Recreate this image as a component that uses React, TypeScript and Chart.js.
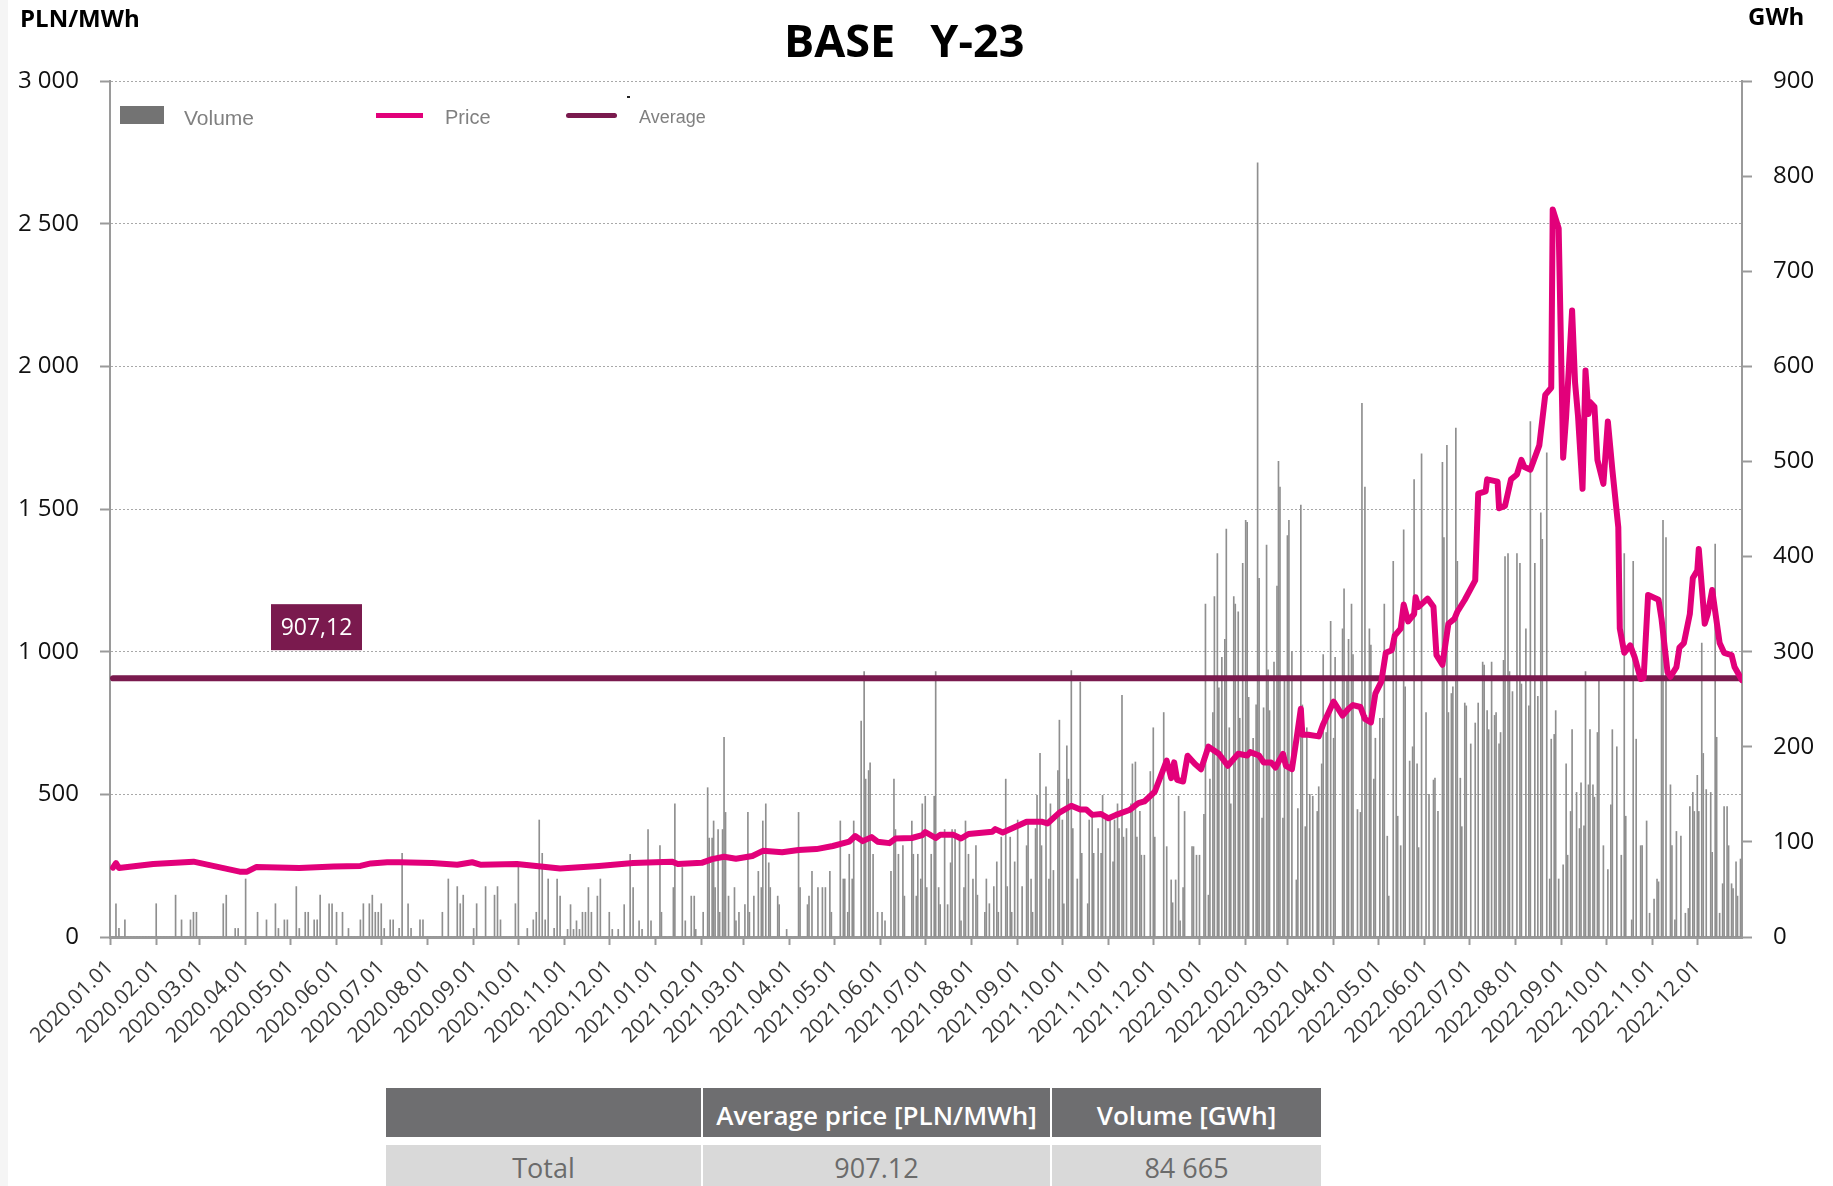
import React, { useEffect, useRef } from "react";
import { Chart, registerables } from "chart.js";

Chart.register(...registerables);

// ---------------- data ----------------
const YEARS = [2020, 2021, 2022];
const MONTHS = [1, 2, 3, 4, 5, 6, 7, 8, 9, 10, 11, 12];

const AVERAGE_PRICE = 907.12;
const TOTAL_VOLUME = "84 665";
const TABLE_HEADERS = ["", "Average price [PLN/MWh]", "Volume [GWh]"];
const TABLE_ROW = ["Total", "907.12", TOTAL_VOLUME];

// price points [MM-DD, PLN/MWh]
const price2020: [string, number][] = [
  ["01-03", 243], ["01-05", 259], ["01-07", 242], ["01-30", 256], ["02-26", 264],
  ["03-28", 229], ["04-02", 229], ["04-08", 245], ["05-07", 242], ["05-30", 247],
  ["06-17", 249], ["06-24", 258], ["07-05", 262], ["07-13", 262], ["08-04", 259],
  ["08-21", 253], ["08-31", 262], ["09-06", 253], ["09-30", 256], ["10-29", 240],
  ["11-24", 249], ["12-17", 259],
];
const price2021: [string, number][] = [
  ["01-01", 262], ["01-12", 264], ["01-16", 256], ["02-01", 260], ["02-08", 273],
  ["02-16", 281], ["02-24", 274], ["03-07", 284], ["03-14", 302], ["03-27", 297],
  ["04-07", 305], ["04-19", 308], ["04-30", 319], ["05-11", 334], ["05-15", 354],
  ["05-20", 336], ["05-26", 350], ["05-30", 334], ["06-07", 329], ["06-11", 345],
  ["06-22", 347], ["06-29", 357], ["07-01", 368], ["07-08", 347], ["07-11", 358],
  ["07-20", 358], ["07-25", 345], ["07-30", 361], ["08-15", 369], ["08-17", 378],
  ["08-22", 366], ["08-31", 387], ["09-07", 404], ["09-17", 404], ["09-21", 398],
  ["09-29", 436], ["10-07", 460], ["10-13", 447], ["10-17", 447], ["10-21", 428],
  ["10-27", 431], ["11-01", 416], ["11-06", 428], ["11-15", 445], ["11-21", 469],
  ["11-25", 475], ["12-02", 509], ["12-10", 618], ["12-13", 557], ["12-15", 612],
  ["12-17", 551], ["12-21", 545], ["12-24", 635], ["12-29", 606],
];
const price2022: [string, number][] = [
  ["01-02", 588], ["01-07", 667], ["01-14", 642], ["01-20", 600], ["01-27", 642],
  ["02-02", 636], ["02-04", 648], ["02-10", 636], ["02-13", 612], ["02-18", 612],
  ["02-21", 594], ["02-26", 642], ["02-28", 600], ["03-04", 588], ["03-07", 691],
  ["03-10", 800], ["03-11", 709], ["03-15", 709], ["03-22", 703], ["03-25", 746],
  ["04-01", 825], ["04-07", 776], ["04-11", 800], ["04-14", 813], ["04-19", 806],
  ["04-22", 764], ["04-26", 752], ["04-29", 853], ["05-03", 895], ["05-06", 996],
  ["05-10", 1005], ["05-12", 1056], ["05-16", 1081], ["05-18", 1165], ["05-21", 1106],
  ["05-25", 1132], ["05-26", 1191], ["05-28", 1157], ["06-03", 1186], ["06-07", 1157],
  ["06-09", 988], ["06-13", 954], ["06-17", 1098], ["06-21", 1115], ["06-23", 1140],
  ["06-28", 1182], ["07-05", 1250], ["07-07", 1554], ["07-12", 1562], ["07-13", 1604],
  ["07-20", 1596], ["07-21", 1503], ["07-25", 1511], ["07-29", 1604], ["08-02", 1621],
  ["08-05", 1672], ["08-07", 1647], ["08-11", 1638], ["08-17", 1723], ["08-21", 1900],
  ["08-25", 1925], ["08-26", 2550], ["08-30", 2483], ["09-02", 1680], ["09-04", 1824],
  ["09-08", 2196], ["09-10", 1942], ["09-12", 1824], ["09-15", 1571], ["09-17", 1985],
  ["09-19", 1833], ["09-20", 1875], ["09-23", 1858], ["09-25", 1672], ["09-29", 1588],
  ["10-02", 1807], ["10-05", 1638], ["10-09", 1436], ["10-10", 1081], ["10-13", 996],
  ["10-17", 1022], ["10-20", 980], ["10-24", 904], ["10-26", 907], ["10-29", 1199],
  ["11-05", 1182], ["11-07", 1115], ["11-11", 929], ["11-13", 912], ["11-17", 946],
  ["11-19", 1014], ["11-22", 1030], ["11-26", 1132], ["11-28", 1258], ["12-01", 1284],
  ["12-02", 1360], ["12-06", 1098], ["12-08", 1132], ["12-11", 1216], ["12-16", 1030],
  ["12-19", 996], ["12-24", 988], ["12-26", 946], ["12-31", 900],
];

// volume [GWh], one list per month, read left to right across the month
const volume2020: number[][] = [
  [0, 0, 35, 9, 0, 18, 0, 0, 0, 0, 0, 0, 0, 0, 0],
  [35, 0, 0, 0, 0, 0, 0, 44, 0, 18, 0, 0, 18, 26, 26],
  [0, 0, 0, 0, 0, 0, 0, 0, 35, 44, 0, 0, 9, 9, 0],
  [61, 0, 0, 0, 26, 0, 0, 18, 0, 0, 35, 9, 0, 18, 18],
  [0, 0, 53, 9, 0, 26, 26, 0, 18, 18, 44, 0, 0, 35, 35],
  [26, 0, 26, 0, 9, 0, 0, 0, 18, 35, 0, 35, 44, 26, 26],
  [35, 9, 0, 18, 18, 0, 9, 88, 0, 35, 9, 0, 0, 18, 18],
  [0, 0, 0, 0, 0, 26, 0, 61, 0, 0, 53, 35, 44, 0, 0],
  [9, 35, 0, 0, 53, 0, 0, 44, 53, 18, 0, 0, 0, 0, 35],
  [74, 0, 0, 9, 0, 18, 26, 123, 88, 18, 61, 0, 9, 61, 43],
  [0, 8, 34, 8, 17, 8, 26, 26, 52, 26, 0, 43, 61, 0, 0],
  [26, 8, 0, 8, 0, 34, 0, 87, 52, 0, 17, 8, 0, 113, 17],
];
const volume2021: number[][] = [
  [0, 0, 96, 26, 0, 0, 0, 0, 52, 140, 0, 0, 73, 17, 0, 0, 43, 43, 8, 0],
  [0, 26, 0, 157, 104, 104, 122, 52, 113, 26, 113, 210, 131, 43, 0, 0, 52, 17, 26, 0],
  [0, 34, 131, 26, 0, 43, 0, 69, 52, 122, 140, 78, 52, 0, 0, 43, 34, 0, 0, 8],
  [0, 0, 0, 0, 131, 52, 0, 0, 34, 43, 69, 0, 0, 52, 0, 52, 52, 0, 69, 26],
  [0, 0, 0, 122, 61, 61, 26, 87, 61, 122, 0, 0, 227, 279, 166, 175, 183, 87, 0, 26],
  [0, 26, 17, 0, 0, 69, 166, 113, 87, 0, 96, 43, 0, 0, 122, 87, 43, 87, 61, 140],
  [148, 52, 0, 87, 148, 279, 52, 34, 0, 113, 34, 78, 113, 113, 0, 104, 17, 52, 122, 87],
  [0, 61, 96, 44, 0, 0, 26, 61, 35, 0, 53, 79, 26, 105, 0, 166, 53, 105, 26, 79],
  [123, 0, 53, 0, 96, 123, 61, 26, 114, 149, 193, 96, 0, 158, 61, 140, 70, 0, 175, 228],
  [123, 35, 201, 166, 280, 114, 0, 61, 268, 88, 0, 35, 123, 131, 88, 0, 114, 88, 149, 123],
  [0, 123, 79, 123, 140, 114, 254, 105, 114, 0, 140, 182, 184, 105, 132, 86, 86, 0, 0, 174],
  [220, 105, 0, 0, 0, 236, 95, 0, 60, 36, 60, 148, 17, 52, 132, 0, 0, 95, 95, 86],
];
const volume2022: number[][] = [
  [86, 0, 129, 350, 44, 166, 236, 358, 403, 262, 294, 313, 429, 220, 140, 358, 350, 342, 230, 393],
  [438, 436, 252, 0, 209, 244, 814, 377, 125, 241, 412, 281, 238, 0, 289, 369, 500, 473, 125, 270],
  [422, 438, 300, 0, 60, 135, 454, 244, 116, 220, 150, 148, 0, 132, 158, 182, 297, 215, 230, 332],
  [209, 294, 0, 0, 324, 366, 271, 313, 350, 297, 0, 134, 131, 561, 473, 233, 324, 307, 166, 209],
  [0, 230, 230, 350, 106, 43, 0, 395, 312, 127, 96, 428, 263, 0, 185, 200, 481, 182, 94, 508],
  [0, 236, 150, 0, 165, 167, 132, 0, 499, 420, 517, 236, 256, 263, 535, 395, 167, 116, 246, 243],
  [0, 203, 0, 225, 246, 0, 289, 286, 238, 218, 289, 233, 236, 203, 215, 291, 400, 403, 279, 258],
  [0, 403, 393, 266, 0, 324, 243, 542, 0, 393, 253, 446, 418, 0, 509, 61, 208, 213, 238, 61],
  [0, 76, 182, 86, 132, 218, 0, 152, 114, 162, 117, 279, 160, 218, 160, 147, 215, 269, 0, 96],
  [0, 71, 139, 218, 0, 200, 0, 86, 403, 127, 0, 18, 395, 208, 0, 96, 96, 0, 122, 25],
  [0, 40, 61, 58, 342, 438, 420, 0, 160, 96, 18, 111, 0, 106, 0, 25, 30, 137, 152, 132],
  [170, 132, 309, 193, 155, 0, 152, 89, 413, 210, 25, 56, 137, 137, 96, 56, 51, 79, 43, 82],
];

// ---------------- derived ----------------
const ORIGIN = Date.UTC(YEARS[0], 0, 1);
const dayOf = (y: number, m: number, d: number) =>
  Math.round((Date.UTC(y, m - 1, d) - ORIGIN) / 86400000);
const LAST_DAY = dayOf(YEARS[YEARS.length - 1], 12, 31);

const priceByYear: [number, [string, number][]][] = [
  [2020, price2020], [2021, price2021], [2022, price2022],
];
const pricePoints = priceByYear.flatMap(([yr, arr]) =>
  arr.map(([md, v]) => {
    const [m, d] = md.split("-").map(Number);
    return { x: dayOf(yr, m, d), y: v };
  })
);

const volumeByYear: [number, number[][]][] = [
  [2020, volume2020], [2021, volume2021], [2022, volume2022],
];
const volumePoints = volumeByYear.flatMap(([yr, months]) =>
  months.flatMap((vals, mi) => {
    const start = dayOf(yr, mi + 1, 1);
    const len = new Date(Date.UTC(yr, mi + 1, 0)).getUTCDate();
    return vals.map((v, k) => ({ x: start + Math.floor((k * len) / vals.length), y: v }));
  })
);

const monthStarts = YEARS.flatMap((y) => MONTHS.map((m) => dayOf(y, m, 1)));
const monthLabels = YEARS.flatMap((y) =>
  MONTHS.map((m) => `${y}.${String(m).padStart(2, "0")}.01`)
);

const avgPoints = [
  { x: pricePoints[0].x, y: AVERAGE_PRICE },
  { x: LAST_DAY, y: AVERAGE_PRICE },
];

const fmtThousands = (v: number) =>
  String(v).replace(/\B(?=(\d{3})+(?!\d))/g, " ");

const FONT = "'Open Sans', sans-serif";
const AXIS_GRAY = "#9a9a9a";
const PRICE_COLOR = "#e2007a";
const AVG_COLOR = "#7a1a4e";
const VOLUME_COLOR = "#8f8f8f";

const avgLabelPlugin = {
  id: "avgLabel",
  afterDatasetsDraw(chart: any) {
    const { ctx, chartArea, scales } = chart;
    const y = scales.y.getPixelForValue(AVERAGE_PRICE);
    const x0 = chartArea.left + 161;
    ctx.save();
    ctx.fillStyle = AVG_COLOR;
    ctx.fillRect(x0, y - 74, 91, 46);
    ctx.fillStyle = "#ffffff";
    ctx.font = `23px ${FONT}`;
    ctx.textAlign = "center";
    ctx.textBaseline = "middle";
    ctx.fillText(AVERAGE_PRICE.toFixed(2).replace(".", ","), x0 + 45.5, y - 50);
    ctx.restore();
  },
};

export default function App() {
  const canvasRef = useRef<HTMLCanvasElement | null>(null);

  useEffect(() => {
    document.body.style.margin = "0";
    document.body.style.overflow = "hidden";
    Chart.defaults.font.family = FONT;
    const canvas = canvasRef.current;
    if (!canvas) return;
    const chart = new Chart(canvas, {
      type: "line",
      data: {
        datasets: [
          {
            type: "line",
            label: "Price",
            data: pricePoints,
            borderColor: PRICE_COLOR,
            borderWidth: 6,
            pointRadius: 0,
            tension: 0,
            borderJoinStyle: "round",
            borderCapStyle: "round",
            yAxisID: "y",
            order: 0,
          },
          {
            type: "line",
            label: "Average",
            data: avgPoints,
            borderColor: AVG_COLOR,
            borderWidth: 6,
            pointRadius: 0,
            borderCapStyle: "round",
            yAxisID: "y",
            order: 1,
          },
          {
            type: "bar",
            label: "Volume",
            data: volumePoints,
            backgroundColor: VOLUME_COLOR,
            barThickness: 1,
            yAxisID: "y1",
            order: 2,
          },
        ] as any,
      },
      options: {
        responsive: false,
        animation: false,
        devicePixelRatio: 1,
        layout: { padding: { top: 81, left: 0, right: 0, bottom: 0 } },
        plugins: {
          legend: { display: false },
          title: { display: false },
          tooltip: { enabled: false },
        },
        scales: {
          x: {
            type: "linear",
            min: 0,
            max: LAST_DAY,
            offset: false,
            afterBuildTicks: (s: any) => {
              s.ticks = monthStarts.map((v) => ({ value: v }));
            },
            afterFit: (s: any) => {
              s.height = 133;
            },
            ticks: {
              autoSkip: false,
              minRotation: 45,
              maxRotation: 45,
              padding: 10,
              color: "#3a3a3a",
              font: { size: 21, family: FONT },
              callback: (_v: any, i: number) => monthLabels[i],
            },
            grid: {
              display: true,
              drawOnChartArea: false,
              drawTicks: true,
              tickLength: 8,
              tickColor: AXIS_GRAY,
              tickWidth: 2,
              offset: false,
            },
            border: { display: true, color: AXIS_GRAY, width: 3 },
          },
          y: {
            position: "left",
            min: 0,
            max: 3000,
            afterFit: (s: any) => {
              s.width = 110;
            },
            ticks: {
              stepSize: 500,
              padding: 21,
              color: "#111",
              font: { size: 24, family: FONT },
              callback: (v: any) => fmtThousands(Number(v)),
            },
            grid: {
              color: "#a8a8a8",
              lineWidth: 1,
              tickLength: 10,
              tickColor: AXIS_GRAY,
              tickWidth: 2,
              tickBorderDash: [],
            },
            border: { display: true, color: AXIS_GRAY, width: 2, dash: [2, 2] },
          },
          y1: {
            position: "right",
            min: 0,
            max: 900,
            afterFit: (s: any) => {
              s.width = 91;
            },
            ticks: {
              stepSize: 100,
              padding: 21,
              color: "#111",
              font: { size: 24, family: FONT },
            },
            grid: {
              drawOnChartArea: false,
              tickLength: 10,
              tickColor: AXIS_GRAY,
              tickWidth: 2,
            },
            border: { display: true, color: AXIS_GRAY, width: 2 },
          },
        },
      } as any,
      plugins: [avgLabelPlugin],
    });
    return () => chart.destroy();
  }, []);

  const legendText: React.CSSProperties = {
    position: "absolute",
    fontFamily: "'Liberation Sans', Arial, sans-serif",
    color: "#808080",
    whiteSpace: "nowrap",
  };
  const cellBase: React.CSSProperties = {
    display: "flex",
    alignItems: "center",
    justifyContent: "center",
    whiteSpace: "nowrap",
  };

  return (
    <div
      style={{
        position: "absolute",
        left: 0,
        top: 0,
        width: 1833,
        height: 1186,
        overflow: "hidden",
        background: "#ffffff",
        fontFamily: FONT,
      }}
    >
      <div style={{ position: "absolute", left: 0, top: 0, width: 8, height: 1186, background: "#f5f5f5" }} />
      <canvas ref={canvasRef} width={1833} height={1070} style={{ position: "absolute", left: 0, top: 0 }} />

      {/* titles */}
      <div style={{ position: "absolute", left: 784, top: 17, fontSize: 45, lineHeight: "45px", fontWeight: 700, color: "#000", whiteSpace: "pre" }}>
        {"BASE   Y-23"}
      </div>
      <div style={{ position: "absolute", left: 20, top: 6, fontSize: 24, lineHeight: "24px", fontWeight: 700, color: "#000" }}>
        PLN/MWh
      </div>
      <div style={{ position: "absolute", left: 1748, top: 4, fontSize: 24, lineHeight: "24px", fontWeight: 700, color: "#000" }}>
        GWh
      </div>

      {/* legend */}
      <div style={{ position: "absolute", left: 120, top: 106, width: 44, height: 18, background: "#737373" }} />
      <div style={{ ...legendText, left: 184, top: 107, fontSize: 21, lineHeight: "21px" }}>Volume</div>
      <div style={{ position: "absolute", left: 376, top: 113, width: 47, height: 5, background: PRICE_COLOR }} />
      <div style={{ ...legendText, left: 445, top: 107, fontSize: 20, lineHeight: "20px" }}>Price</div>
      <div style={{ position: "absolute", left: 566, top: 113, width: 51, height: 5, borderRadius: 3, background: AVG_COLOR }} />
      <div style={{ ...legendText, left: 639, top: 108, fontSize: 18, lineHeight: "18px" }}>Average</div>
      <div style={{ position: "absolute", left: 627, top: 96, width: 3, height: 2, background: "#222" }} />

      {/* table */}
      <div
        style={{
          position: "absolute",
          left: 386,
          top: 1088,
          display: "grid",
          gridTemplateColumns: "315px 347px 269px",
          gridTemplateRows: "49px 45px",
          columnGap: 2,
          rowGap: 8,
        }}
      >
        {TABLE_HEADERS.map((h, i) => (
          <div key={"h" + i} style={{ ...cellBase, background: "#6e6e70", color: "#fff", fontSize: 26, fontWeight: 600, paddingTop: 4 }}>
            {h}
          </div>
        ))}
        {TABLE_ROW.map((c, i) => (
          <div key={"r" + i} style={{ ...cellBase, background: "#d9d9d9", color: "#6b6b6b", fontSize: 27, fontWeight: 400 }}>
            {c}
          </div>
        ))}
      </div>
    </div>
  );
}
